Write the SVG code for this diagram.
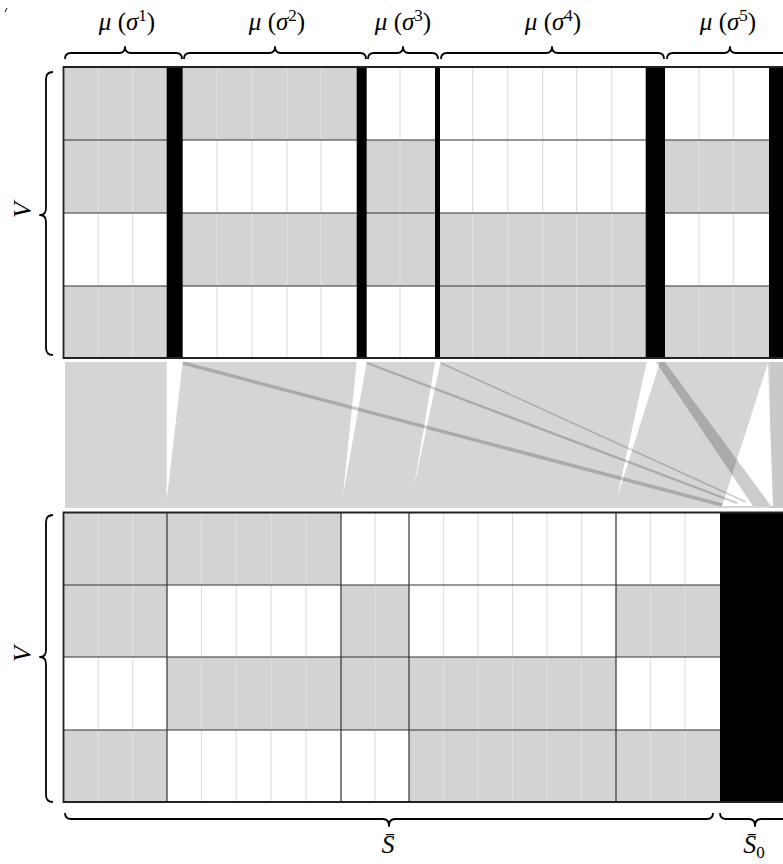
<svg xmlns="http://www.w3.org/2000/svg" width="783" height="864" viewBox="0 0 783 864">
<style>
.g{fill:#d3d3d3}
.k{fill:#000}
.sub{stroke:#e0e0e0;stroke-width:1.2}
.row{stroke:#333;stroke-width:1.2;fill:none}
.edge{stroke:#222;stroke-width:1.8;fill:none}
.brace{fill:none;stroke:#000;stroke-width:1.8;stroke-linejoin:round}
.lbl{font-family:"Liberation Serif","DejaVu Serif",serif;font-size:25px;fill:#000}
.it{font-style:italic}
.sup{font-size:17px}
.wedge{fill:#fff}
.flow{stroke:#000;stroke-opacity:0.2;fill:none}
</style>
<rect width="783" height="864" fill="#fff"/>
<path d="M7,8 L5,12" stroke="#000" stroke-width="1"/>

<g id="labels-top" class="lbl">
<text x="127" y="30" text-anchor="middle"><tspan class="it">μ</tspan> (<tspan class="it">σ</tspan><tspan class="sup" dy="-9">1</tspan><tspan dy="9">)</tspan></text>
<text x="277" y="30" text-anchor="middle"><tspan class="it">μ</tspan> (<tspan class="it">σ</tspan><tspan class="sup" dy="-9">2</tspan><tspan dy="9">)</tspan></text>
<text x="403" y="30" text-anchor="middle"><tspan class="it">μ</tspan> (<tspan class="it">σ</tspan><tspan class="sup" dy="-9">3</tspan><tspan dy="9">)</tspan></text>
<text x="553" y="30" text-anchor="middle"><tspan class="it">μ</tspan> (<tspan class="it">σ</tspan><tspan class="sup" dy="-9">4</tspan><tspan dy="9">)</tspan></text>
<text x="728" y="30" text-anchor="middle"><tspan class="it">μ</tspan> (<tspan class="it">σ</tspan><tspan class="sup" dy="-9">5</tspan><tspan dy="9">)</tspan></text>
</g>

<g id="braces" class="brace">
<path d="M65,59 Q65,53 71,53 L119,53 Q125,53 125,47 Q125,53 131,53 L176,53 Q182,53 182,59"/>
<path d="M184,59 Q184,53 190,53 L269,53 Q275,53 275,47 Q275,53 281,53 L360,53 Q366,53 366,59"/>
<path d="M368,59 Q368,53 374,53 L397,53 Q403,53 403,47 Q403,53 409,53 L432,53 Q438,53 438,59"/>
<path d="M441,59 Q441,53 447,53 L546,53 Q552,53 552,47 Q552,53 558,53 L658,53 Q664,53 664,59"/>
<path d="M667,59 Q667,53 673,53 L724,53 Q730,53 730,47 Q730,53 736,53 L787,53 Q793,53 793,59"/>
<path d="M53,72 Q46,72 46,79 L46,208 Q46,215 40,215 Q46,215 46,222 L46,348 Q46,355 53,355"/>
<path d="M53,515 Q46,515 46,522 L46,650 Q46,657 40,657 Q46,657 46,664 L46,795 Q46,802 53,802"/>
<path d="M65,813 Q65,819 71,819 L383,819 Q389,819 389,826 Q389,819 395,819 L707,819 Q713,819 713,813"/>
<path d="M720,813 Q720,819 726,819 L749,819 Q755,819 755,826 Q755,819 761,819 L784,819 Q790,819 790,813"/>
</g>

<g id="labels-side" class="lbl">
<text class="it" font-size="26" text-anchor="middle" transform="translate(31,210) rotate(-90)">V</text>
<text class="it" font-size="26" text-anchor="middle" transform="translate(31,654) rotate(-90)">V</text>
<text x="388" y="853" text-anchor="middle" font-size="26" class="it">S̄</text>
<text x="754" y="853" text-anchor="middle" font-size="26"><tspan class="it">S̄</tspan><tspan dy="5" class="sup">0</tspan></text>
</g>

<g id="top-matrix">
<rect x="63" y="67" width="720" height="291" fill="#fff"/>
<rect class="g" x="63" y="67" width="104" height="73"/>
<rect class="g" x="183" y="67" width="174" height="73"/>
<rect class="g" x="63" y="140" width="104" height="73"/>
<rect class="g" x="367" y="140" width="68" height="73"/>
<rect class="g" x="665" y="140" width="104" height="73"/>
<rect class="g" x="183" y="213" width="174" height="73"/>
<rect class="g" x="367" y="213" width="68" height="73"/>
<rect class="g" x="440" y="213" width="206" height="73"/>
<rect class="g" x="63" y="286" width="104" height="72"/>
<rect class="g" x="440" y="286" width="206" height="72"/>
<rect class="g" x="665" y="286" width="104" height="72"/>
<g class="sub">
<path d="M98.3,67V358M132.7,67V358M217,67V358M252,67V358M287,67V358M321,67V358M400,67V358M472.7,67V358M507.7,67V358M542.7,67V358M576.7,67V358M611.7,67V358M699,67V358M733.3,67V358"/>
</g>
<path class="row" d="M63,140H783M63,213H783M63,286H783"/>
<rect class="k" x="166.7" y="67" width="16" height="291"/>
<rect class="k" x="356.7" y="67" width="10" height="291"/>
<rect class="k" x="435" y="67" width="5" height="291"/>
<rect class="k" x="645.7" y="67" width="19.3" height="291"/>
<rect class="k" x="769" y="67" width="14" height="291"/>
<path class="edge" d="M783,67H63.5V358H783"/>
</g>

<g id="connectors">
<rect x="65" y="362" width="718" height="146" fill="#d5d5d5"/>
<rect x="770" y="362" width="13" height="146" fill="#c9c9c9"/>
<polygon class="wedge" points="166.7,362 182.7,362 166.7,500"/>
<polygon class="wedge" points="356.7,362 366.7,362 343,495"/>
<polygon class="wedge" points="435,362 440.5,362 414,487"/>
<polygon class="wedge" points="646.7,362 660,362 617,498"/>
<polygon class="wedge" points="768,363 722,506 773,506"/>
<line class="flow" x1="183" y1="363" x2="722" y2="505" stroke-width="3.4"/>
<line class="flow" x1="367" y1="363" x2="737" y2="503" stroke-width="2.4"/>
<line class="flow" x1="441" y1="363" x2="746" y2="502" stroke-width="1.5"/>
<polygon points="656,362 665,362 771,506 753,506" fill="#000" fill-opacity="0.2"/>
</g>

<g id="bottom-matrix">
<rect x="63" y="512" width="657" height="290" fill="#fff"/>
<rect class="g" x="63" y="512" width="104" height="73"/>
<rect class="g" x="167" y="512" width="174" height="73"/>
<rect class="g" x="63" y="585" width="104" height="72"/>
<rect class="g" x="341" y="585" width="68" height="72"/>
<rect class="g" x="616" y="585" width="104" height="72"/>
<rect class="g" x="167" y="657" width="174" height="73"/>
<rect class="g" x="341" y="657" width="68" height="73"/>
<rect class="g" x="409" y="657" width="207" height="73"/>
<rect class="g" x="63" y="730" width="104" height="72"/>
<rect class="g" x="409" y="730" width="207" height="72"/>
<rect class="g" x="616" y="730" width="104" height="72"/>
<g class="sub">
<path d="M98.3,512V802M132.7,512V802M201.5,512V802M236.3,512V802M271,512V802M305.9,512V802M375,512V802M443.5,512V802M478,512V802M512.5,512V802M547,512V802M581.5,512V802M650.5,512V802M685,512V802"/>
</g>
<path class="row" d="M63,585H720M63,657H720M63,730H720M167,512V802M341,512V802M409,512V802M616,512V802"/>
<rect class="k" x="720" y="512" width="63" height="290"/>
<path class="edge" d="M783,512.5H63.5V802H783"/>
</g>
</svg>
